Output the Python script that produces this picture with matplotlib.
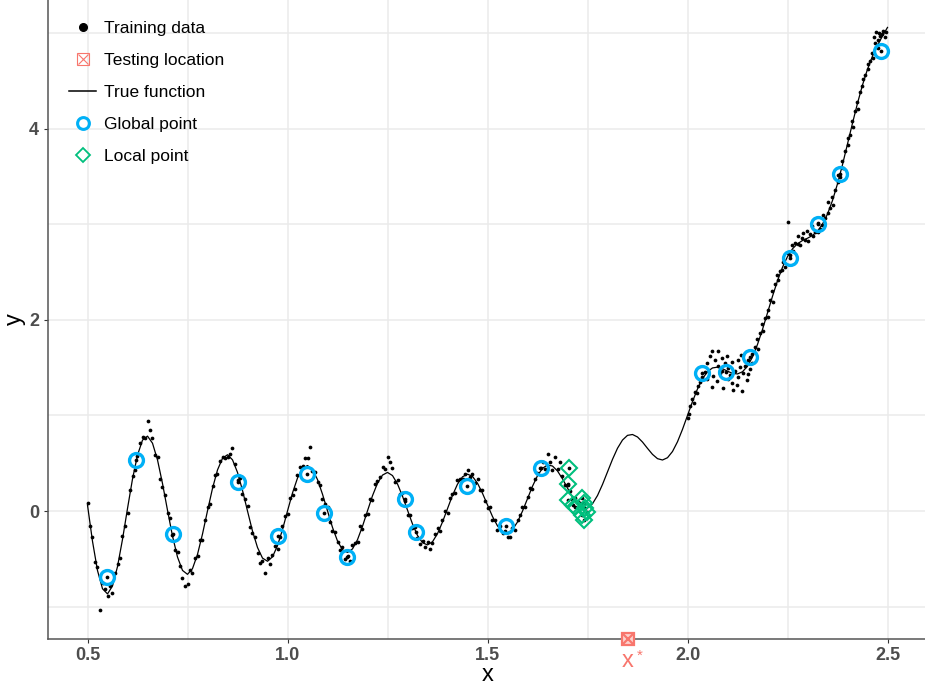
import numpy as np
import matplotlib
matplotlib.use("Agg")
import matplotlib.pyplot as plt
from matplotlib.lines import Line2D

plt.rcParams["font.family"] = ["Liberation Sans", "DejaVu Sans"]

# true function
true_x = [0.5, 0.5125, 0.525, 0.5375, 0.55, 0.5625, 0.575, 0.5875, 0.6, 0.6125, 0.625, 0.6375,
          0.65, 0.6625, 0.675, 0.6875, 0.7, 0.7125, 0.725, 0.7375, 0.75, 0.7625, 0.775, 0.7875,
          0.8, 0.8125, 0.825, 0.8375, 0.85, 0.8625, 0.875, 0.8875, 0.9, 0.9125, 0.925, 0.9375,
          0.95, 0.9625, 0.975, 0.9875, 1.0, 1.0125, 1.025, 1.0375, 1.05, 1.0625, 1.075, 1.0875,
          1.1, 1.1125, 1.125, 1.1375, 1.15, 1.1625, 1.175, 1.1875, 1.2, 1.2125, 1.225, 1.2375,
          1.25, 1.2625, 1.275, 1.2875, 1.3, 1.3125, 1.325, 1.3375, 1.35, 1.3625, 1.375, 1.3875,
          1.4, 1.4125, 1.425, 1.4375, 1.45, 1.4625, 1.475, 1.4875, 1.5, 1.5125, 1.525, 1.5375,
          1.55, 1.5625, 1.575, 1.5875, 1.6, 1.6125, 1.625, 1.6375, 1.65, 1.6625, 1.675, 1.6875,
          1.7, 1.7125, 1.725, 1.7375, 1.75, 1.7625, 1.775, 1.7875, 1.8, 1.8125, 1.825, 1.8375,
          1.85, 1.8625, 1.875, 1.8875, 1.9, 1.9125, 1.925, 1.9375, 1.95, 1.9625, 1.975, 1.9875,
          2.0, 2.0125, 2.025, 2.0375, 2.05, 2.0625, 2.075, 2.0875, 2.1, 2.1125, 2.125, 2.1375,
          2.15, 2.1625, 2.175, 2.1875, 2.2, 2.2125, 2.225, 2.2375, 2.25, 2.2625, 2.275, 2.2875,
          2.3, 2.3125, 2.325, 2.3375, 2.35, 2.3625, 2.375, 2.3875, 2.4, 2.4125, 2.425, 2.4375,
          2.45, 2.4625, 2.475, 2.4875, 2.5]
true_y = [0.062, -0.317, -0.623, -0.814, -0.868, -0.785, -0.582, -0.297, 0.026, 0.335, 0.585, 0.742,
          0.784, 0.710, 0.535, 0.288, 0.008, -0.262, -0.482, -0.622, -0.663, -0.603, -0.454, -0.241,
          0.002, 0.237, 0.430, 0.552, 0.589, 0.536, 0.404, 0.216, 0.000, -0.210, -0.382, -0.493,
          -0.526, -0.480, -0.363, -0.194, 0.000, 0.189, 0.345, 0.445, 0.476, 0.435, 0.329, 0.176,
          0.000, -0.172, -0.314, -0.406, -0.434, -0.397, -0.300, -0.160, 0.002, 0.160, 0.291, 0.376,
          0.404, 0.371, 0.283, 0.155, 0.008, -0.136, -0.256, -0.332, -0.355, -0.322, -0.237, -0.115,
          0.026, 0.164, 0.281, 0.358, 0.386, 0.362, 0.291, 0.185, 0.063, -0.058, -0.156, -0.217,
          -0.231, -0.195, -0.115, -0.001, 0.130, 0.259, 0.370, 0.447, 0.482, 0.471, 0.419, 0.337,
          0.240, 0.146, 0.071, 0.030, 0.031, 0.076, 0.162, 0.278, 0.410, 0.541, 0.657, 0.743,
          0.792, 0.801, 0.775, 0.722, 0.656, 0.593, 0.548, 0.534, 0.558, 0.623, 0.725, 0.855,
          1.000, 1.146, 1.278, 1.385, 1.459, 1.498, 1.506, 1.490, 1.464, 1.441, 1.435, 1.458,
          1.516, 1.613, 1.744, 1.901, 2.074, 2.248, 2.411, 2.552, 2.664, 2.745, 2.798, 2.832,
          2.856, 2.885, 2.930, 3.003, 3.109, 3.251, 3.426, 3.626, 3.842, 4.060, 4.269, 4.460,
          4.625, 4.763, 4.876, 4.973, 5.063]

# training data (noisy observations)
train_x = [0.501, 0.506, 0.512, 0.519, 0.524, 0.531, 0.538, 0.544, 0.551, 0.556, 0.562, 0.569,
           0.576, 0.581, 0.587, 0.594, 0.600, 0.606, 0.613, 0.619, 0.624, 0.631, 0.638, 0.644,
           0.651, 0.656, 0.662, 0.669, 0.676, 0.681, 0.687, 0.694, 0.701, 0.706, 0.712, 0.719,
           0.726, 0.731, 0.737, 0.744, 0.751, 0.756, 0.762, 0.769, 0.776, 0.781, 0.787, 0.794,
           0.800, 0.806, 0.813, 0.819, 0.824, 0.831, 0.838, 0.844, 0.851, 0.856, 0.862, 0.869,
           0.876, 0.881, 0.887, 0.894, 0.901, 0.906, 0.912, 0.919, 0.926, 0.931, 0.937, 0.944,
           0.951, 0.956, 0.962, 0.969, 0.976, 0.981, 0.987, 0.994, 1.000, 1.006, 1.013, 1.019,
           1.024, 1.031, 1.038, 1.044, 1.051, 1.056, 1.062, 1.069, 1.076, 1.081, 1.087, 1.094,
           1.100, 1.106, 1.112, 1.119, 1.126, 1.131, 1.137, 1.144, 1.151, 1.156, 1.162, 1.169,
           1.176, 1.181, 1.187, 1.194, 1.200, 1.206, 1.212, 1.219, 1.224, 1.231, 1.238, 1.244,
           1.251, 1.256, 1.262, 1.269, 1.276, 1.281, 1.287, 1.294, 1.300, 1.306, 1.312, 1.319,
           1.324, 1.331, 1.338, 1.344, 1.351, 1.356, 1.362, 1.369, 1.376, 1.381, 1.387, 1.394,
           1.400, 1.406, 1.412, 1.419, 1.424, 1.431, 1.438, 1.444, 1.451, 1.456, 1.462, 1.469,
           1.476, 1.481, 1.487, 1.494, 1.500, 1.506, 1.512, 1.519, 1.524, 1.531, 1.538, 1.544,
           1.551, 1.556, 1.562, 1.569, 1.576, 1.581, 1.587, 1.594, 1.600, 1.606, 1.612, 1.619,
           1.624, 1.631, 1.638, 1.644, 1.651, 1.656, 1.662, 1.669, 1.676, 1.681, 1.687, 1.694,
           1.701, 1.706, 1.712, 1.719, 1.725, 1.731, 1.738,
           2.000, 2.004, 2.006, 2.012, 2.015, 2.019, 2.025, 2.023, 2.031, 2.037, 2.044,
           2.050, 2.048, 2.056, 2.062, 2.064, 2.060, 2.069, 2.075, 2.077, 2.073, 2.081,
           2.087, 2.089, 2.086, 2.094, 2.100, 2.098, 2.102, 2.106, 2.112, 2.114, 2.110, 2.119,
           2.125, 2.127, 2.123, 2.131, 2.137, 2.139, 2.135, 2.144, 2.150, 2.148, 2.152, 2.156,
           2.162, 2.160, 2.169, 2.175, 2.177, 2.181, 2.187, 2.189, 2.194, 2.200, 2.202, 2.206,
           2.212, 2.214, 2.219, 2.225, 2.223, 2.231, 2.237, 2.239, 2.244, 2.250, 2.252, 2.256,
           2.262, 2.264, 2.269, 2.275, 2.277, 2.281, 2.287, 2.289, 2.294, 2.300, 2.302, 2.306,
           2.312, 2.314, 2.319, 2.325, 2.327, 2.331, 2.337, 2.339, 2.344, 2.350, 2.352, 2.356,
           2.362, 2.364, 2.369, 2.375, 2.377, 2.381, 2.387, 2.389, 2.394, 2.400, 2.402, 2.406,
           2.412, 2.414, 2.419, 2.425, 2.427, 2.431, 2.437, 2.439, 2.444, 2.450, 2.452, 2.456,
           2.462, 2.464, 2.469, 2.475, 2.477, 2.481, 2.487, 2.489, 2.494, 2.497,
           2.465, 2.470, 2.478]
train_y = [0.08, -0.16, -0.27, -0.53, -0.59, -1.04, -0.75, -0.82, -0.89, -0.79, -0.86, -0.65,
           -0.56, -0.49, -0.26, -0.16, -0.02, 0.22, 0.37, 0.43, 0.58, 0.71, 0.77, 0.76,
           0.94, 0.85, 0.76, 0.59, 0.57, 0.34, 0.25, 0.17, -0.02, -0.07, -0.25, -0.41,
           -0.43, -0.58, -0.70, -0.79, -0.76, -0.62, -0.65, -0.49, -0.47, -0.30, -0.30, -0.09,
           0.04, 0.07, 0.26, 0.38, 0.39, 0.52, 0.57, 0.55, 0.57, 0.60, 0.66, 0.49,
           0.32, 0.35, 0.18, 0.13, 0.05, -0.17, -0.23, -0.27, -0.44, -0.54, -0.52, -0.65,
           -0.49, -0.56, -0.46, -0.37, -0.40, -0.27, -0.16, -0.05, -0.03, 0.14, 0.17, 0.23,
           0.38, 0.46, 0.47, 0.55, 0.55, 0.67, 0.42, 0.41, 0.30, 0.27, 0.13, 0.07,
           0.04, -0.12, -0.21, -0.22, -0.32, -0.41, -0.38, -0.50, -0.47, -0.52, -0.36, -0.33,
           -0.32, -0.16, -0.19, -0.04, -0.03, 0.13, 0.12, 0.28, 0.31, 0.36, 0.46, 0.44,
           0.57, 0.51, 0.45, 0.30, 0.32, 0.18, 0.19, 0.11, -0.04, -0.04, -0.18, -0.17,
           -0.28, -0.35, -0.31, -0.38, -0.32, -0.40, -0.34, -0.24, -0.18, -0.21, -0.09, 0.00,
           -0.02, 0.14, 0.18, 0.19, 0.32, 0.34, 0.33, 0.39, 0.43, 0.36, 0.39, 0.29,
           0.34, 0.22, 0.22, 0.11, 0.03, 0.04, -0.09, -0.09, -0.20, -0.16, -0.23, -0.21,
           -0.27, -0.27, -0.18, -0.20, -0.09, -0.04, 0.04, 0.04, 0.15, 0.24, 0.23, 0.33,
           0.40, 0.45, 0.51, 0.44, 0.60, 0.51, 0.43, 0.57, 0.44, 0.51, 0.37, 0.27,
           0.27, 0.21, 0.13, 0.14, 0.09, 0.08, 0.08,
           0.97, 1.02, 1.10, 1.17, 1.13, 1.25, 1.31, 1.24, 1.35, 1.40, 1.46,
           1.55, 1.38, 1.62, 1.68, 1.41, 1.30, 1.58, 1.52, 1.67, 1.36, 1.44,
           1.60, 1.29, 1.47, 1.55, 1.38, 1.62, 1.50, 1.42, 1.56, 1.27, 1.34, 1.47,
           1.40, 1.58, 1.32, 1.51, 1.26, 1.45, 1.63, 1.52, 1.43, 1.37, 1.58, 1.49,
           1.64, 1.55, 1.72, 1.80, 1.70, 1.86, 1.96, 1.88, 2.02, 2.10, 2.03, 2.21,
           2.30, 2.19, 2.38, 2.42, 2.47, 2.51, 2.52, 2.61, 2.55, 2.70, 3.03, 2.68,
           2.79, 2.72, 2.81, 2.80, 2.88, 2.79, 2.86, 2.91, 2.84, 2.93, 2.83, 2.90,
           2.98, 2.88, 2.92, 2.92, 3.02, 2.95, 2.99, 3.10, 3.07, 3.12, 3.23, 3.17,
           3.29, 3.20, 3.36, 3.44, 3.52, 3.50, 3.66, 3.59, 3.77, 3.83, 3.90, 3.94,
           4.08, 4.02, 4.19, 4.28, 4.21, 4.39, 4.45, 4.52, 4.56, 4.63, 4.68, 4.71,
           4.80, 4.74, 4.90, 4.93, 4.85, 4.97, 4.99, 5.03, 4.96, 5.02,
           4.96, 5.01, 5.00]

# global design points
global_x = [0.549, 0.621, 0.714, 0.876, 0.976, 1.049, 1.091, 1.149, 1.294, 1.321,
            1.449, 1.546, 1.633, 2.036, 2.096, 2.156, 2.256, 2.326, 2.381, 2.483]
global_y = [-0.69, 0.535, -0.24, 0.30, -0.26, 0.39, -0.02, -0.48, 0.126, -0.22,
            0.26, -0.155, 0.455, 1.45, 1.46, 1.61, 2.65, 3.00, 3.53, 4.82]

# local design points
local_x = [1.704, 1.702, 1.702, 1.714, 1.736, 1.740, 1.744, 1.748, 1.736, 1.740, 1.719]
local_y = [0.448, 0.280, 0.115, 0.063, 0.133, 0.081, 0.028, -0.007, -0.042, -0.094, 0.045]

# testing location
test_x = 1.851

xticks = [0.5, 1.0, 1.5, 2.0, 2.5]
xtick_labels = ["0.5", "1.0", "1.5", "2.0", "2.5"]
yticks = [0, 2, 4]

salmon = "#F8766D"
blue = "#00B0F6"
green = "#00BF7D"

fig = plt.figure(figsize=(9.25, 6.9), dpi=100)
ax = fig.add_axes([47.5 / 925, 51 / 690, 880 / 925, 639 / 690])

ax.plot(true_x, true_y, color="black", lw=0.9, zorder=3)
ax.plot(np.concatenate([train_x, global_x, local_x]), np.concatenate([train_y, global_y, local_y]),
        "o", color="black", ms=2.7, mew=0, zorder=4)
ax.plot(global_x, global_y, "o", mfc="none", mec=blue, ms=10, mew=2.4, zorder=5)
ax.plot(local_x, local_y, "D", mfc="none", mec=green, ms=7.8, mew=1.5, zorder=6)

ylo, yhi = -1.34, 5.35
ax.plot([test_x], [ylo], "s", mfc="#FCD3CF", mec=salmon, ms=8.5, mew=1.6, clip_on=False, zorder=7)
ax.plot([test_x], [ylo], "x", color=salmon, ms=6.5, mew=1.6, clip_on=False, zorder=8)
ax.text(test_x, ylo - 0.12, "x", color=salmon, fontsize=17, ha="center", va="top")
ax.text(test_x + 0.03, ylo - 0.10, "*", color=salmon, fontsize=11, ha="center", va="top")

ax.set_xlim(0.4, 2.6)
ax.set_ylim(ylo, yhi)
ax.set_xticks(xticks, xtick_labels)
ax.set_xticks([0.75, 1.25, 1.75, 2.25], minor=True)
ax.set_yticks(yticks, [str(v) for v in yticks])
ax.set_yticks([-1, 1, 3, 5], minor=True)

ax.grid(which="both", color="#EBEBEB", lw=1.1, zorder=0)
ax.set_axisbelow(True)
for s in ["top", "right"]:
    ax.spines[s].set_visible(False)
for s in ["left", "bottom"]:
    ax.spines[s].set_color("#555555")
    ax.spines[s].set_linewidth(1.1)
ax.tick_params(which="major", length=3, width=0.8, color="#333333", labelcolor="#4D4D4D",
               labelsize=13, pad=3)
ax.tick_params(which="minor", length=0)
for lab in ax.get_xticklabels() + ax.get_yticklabels():
    lab.set_fontweight("bold")

ax.set_xlabel("x", fontsize=17, labelpad=0)
ax.set_ylabel("y", fontsize=17, labelpad=2)

handles = [
    Line2D([], [], marker="o", ls="none", color="black", ms=5.5),
    (Line2D([], [], marker="s", ls="none", mfc="none", mec=salmon, ms=8, mew=0.8),
     Line2D([], [], marker="x", ls="none", color=salmon, ms=6.5, mew=0.8)),
    Line2D([], [], color="black", lw=1.1),
    Line2D([], [], marker="o", ls="none", mfc="none", mec=blue, ms=8.5, mew=2.2),
    Line2D([], [], marker="D", ls="none", mfc="none", mec=green, ms=7.5, mew=1.3),
]
labels = ["Training data", "Testing location", "True function", "Global point", "Local point"]
ax.legend(handles, labels, loc="upper left", bbox_to_anchor=(60 / 925, 1 - 12 / 690),
          bbox_transform=fig.transFigure, frameon=False, fontsize=12.5, borderpad=0,
          handlelength=1.6, handletextpad=0.45, labelspacing=0.98)

fig.savefig("out.png", dpi=100)
